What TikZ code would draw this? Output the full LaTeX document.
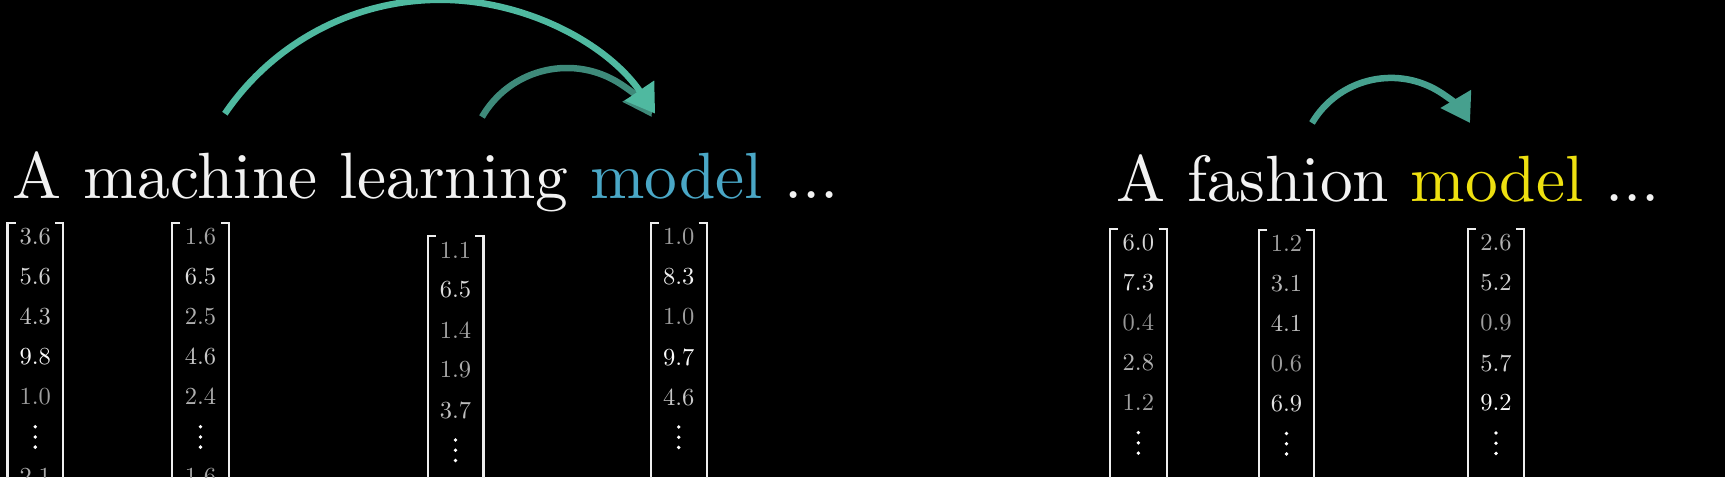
\documentclass[tikz,border=0pt]{standalone}
\usepackage{fontspec}
\newfontfamily\cmten{lmroman10-regular.otf}
\usetikzlibrary{arrows.meta}
\definecolor{bg}{HTML}{000000}
\definecolor{txt}{HTML}{F2F2F2}
\definecolor{mlblue}{HTML}{4AA7C6}
\definecolor{fyellow}{HTML}{EEE010}
\definecolor{tealA}{HTML}{4FB9A0}
\definecolor{tealB}{HTML}{3E8A7A}
\definecolor{tealC}{HTML}{46A08E}
\definecolor{brk}{HTML}{EEEEEE}
\tikzset{
  headline/.style={anchor=base west, inner sep=0pt, text=txt, font=\cmten\fontsize{65.4}{78}\selectfont},
  num/.style={inner sep=0pt, anchor=center, font=\cmten\fontsize{24.5}{28}\selectfont},
  bracketline/.style={draw=brk, line width=2.4pt},
  curvearrow/.style={line width=6.5pt, -{Triangle[length=28pt,width=34pt]}},
  dotmark/.style={fill=white, draw=none}
}
% #1 name, #2 left x, #3 right x, #4 top y, #5 first row y, #6 values
\newcommand\vectorcol[6]{%
  \draw[bracketline] ({#2+8},#4) -- (#2,#4) -- (#2,500);
  \draw[bracketline] ({#3-8},#4) -- (#3,#4) -- (#3,500);
  \foreach \v [count=\i] in {#6} {
    \pgfmathsetmacro\lv{min(99,58+4.4*\v)}
    \node[num, text=white!\lv!black] (#1-\i) at ({(#2+#3)/2},{#5+40*(\i-1)}) {\v};
  }
  \foreach \d in {0,10.2,20.4} {
    \fill[dotmark] ({(#2+#3)/2},{#5+190+\d}) circle (1.9);
  }
}
\begin{document}
\begin{tikzpicture}[x=1pt,y=-1pt]
\useasboundingbox (0,0) rectangle (1725,477);
\fill[bg] (0,0) rectangle (1725,477);
\clip (0,0) rectangle (1725,477);

% headlines
\node[headline] (mlline) at (12,198) {A machine learning \textcolor{mlblue}{model} ...};
\node[headline] (fline) at (1116,201) {A fashion \textcolor{fyellow}{model} ...};

% arrows
\coordinate (smallstart) at (482,117);
\coordinate (bigstart) at (224.9,113.7);
\coordinate (rightstart) at (1312,123);
\draw[curvearrow, tealB] (smallstart) arc[start angle=-150, end angle=-30, radius=98];
\draw[curvearrow, tealA] (bigstart) arc[start angle=-145.8, end angle=-34.2, radius=260.1];
\draw[curvearrow, tealC] (rightstart) arc[start angle=-149.4, end angle=-30.6, radius=91.8];

% vectors
\vectorcol{va}{7.5}{63}{222.7}{236.7}{3.6,5.6,4.3,9.8,1.0}
\node[num, text=white!67!black] (va-7) at (35.25,476.7) {2.1};
\vectorcol{vb}{172}{229}{222.7}{236.7}{1.6,6.5,2.5,4.6,2.4}
\node[num, text=white!65!black] (vb-7) at (200.5,476.7) {1.6};
\vectorcol{vc}{427.7}{483.3}{236}{250}{1.1,6.5,1.4,1.9,3.7}
\vectorcol{vd}{650.7}{706.7}{223}{237}{1.0,8.3,1.0,9.7,4.6}
\vectorcol{ve}{1110}{1166.7}{229}{242.7}{6.0,7.3,0.4,2.8,1.2}
\vectorcol{vf}{1259}{1314}{230}{243.5}{1.2,3.1,4.1,0.6,6.9}
\vectorcol{vg}{1468}{1524}{229}{243}{2.6,5.2,0.9,5.7,9.2}
\end{tikzpicture}
\end{document}
